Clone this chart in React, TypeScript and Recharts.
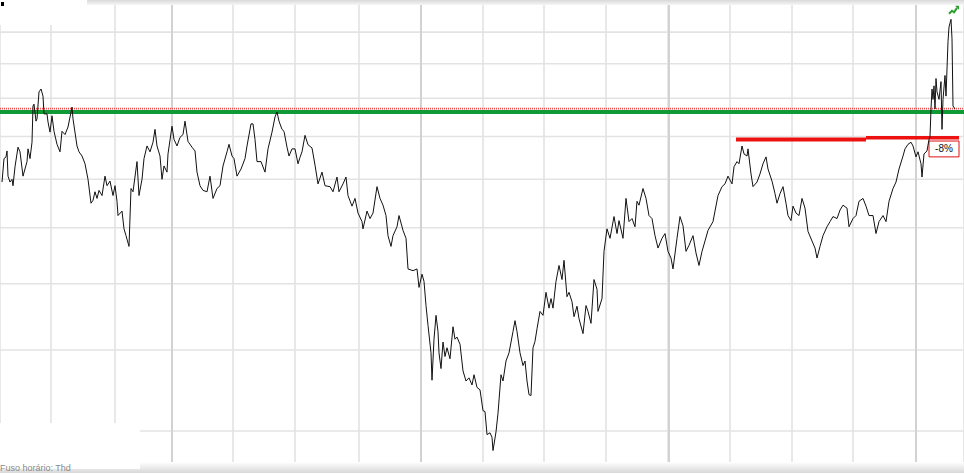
import React from 'react';
import {
  LineChart, Line, XAxis, YAxis, CartesianGrid, ReferenceLine, ReferenceArea, ReferenceDot,
} from 'recharts';

// trading day index
const days = [
  2, 4, 6, 7, 8, 10, 12, 13, 15, 18, 20, 23, 27, 28, 30, 32, 33, 34, 36, 37, 39, 41, 43, 44, 47, 48, 50, 52, 54, 57,
  60, 62, 65, 68, 72, 73, 77, 79, 82, 85, 88, 91, 93, 95, 97, 99, 102, 105, 107, 110, 113, 115, 117, 118, 122, 124, 126, 129,
  131, 133, 137, 139, 142, 144, 147, 150, 153, 155, 157, 160, 162, 164, 167, 168, 172, 174, 177, 180, 183, 185, 188, 192,
  195, 197, 200, 203, 207, 210, 213, 217, 220, 223, 227, 229, 232, 234, 237, 241, 245, 247, 251, 253, 255, 257, 261, 265,
  268, 272, 275, 277, 279, 282, 284, 287, 289, 292, 295, 298, 300, 302, 305, 308, 312, 315, 318, 322, 325, 330, 333, 337,
  339, 343, 346, 348, 352, 355, 358, 362, 363, 367, 370, 373, 377, 380, 383, 386, 388, 391, 393, 397, 399, 403, 406, 408,
  413, 417, 419, 422, 424, 426, 428, 431, 432, 434, 436, 438, 439, 441, 443, 445, 447, 450, 453, 455, 457, 460, 463, 466,
  469, 472, 474, 477, 480, 483, 485, 487, 490, 492, 493, 496, 498, 501, 503, 506, 509, 513, 515, 517, 520, 523, 525, 527,
  529, 531, 533, 535, 537, 540, 543, 546, 549, 551, 553, 556, 559, 562, 564, 567, 569, 572, 574, 577, 579, 583, 586, 588,
  591, 594, 597, 598, 602, 604, 607, 610, 614, 617, 619, 623, 626, 629, 632, 635, 637, 639, 643, 646, 649, 652, 655, 658,
  662, 665, 668, 671, 673, 677, 680, 683, 686, 689, 693, 696, 699, 702, 705, 708, 713, 715, 718, 722, 725, 728, 732, 734,
  737, 739, 742, 744, 747, 748, 751, 753, 757, 760, 763, 766, 768, 772, 775, 777, 780, 783, 786, 788, 791, 793, 796, 799,
  802, 805, 808, 812, 815, 817, 820, 823, 827, 830, 833, 837, 840, 843, 847, 849, 853, 856, 859, 863, 866, 869, 873, 876,
  879, 883, 886, 889, 893, 896, 899, 903, 905, 908, 911, 913, 916, 918, 921, 922, 924, 927, 929, 930, 931, 932, 933, 934,
  935, 936, 937, 939, 941, 942, 943, 945, 946, 948, 949, 951, 952, 953, 955,
];

const prices = [
  7.94, 8.47, 8.51, 8.65, 8.07, 7.94, 8.0, 7.86, 8.28, 8.74, 8.63, 8.07, 8.4, 8.7, 8.47, 8.86, 9.79, 9.84, 9.39, 9.45, 10.18, 10.26, 10.06, 9.58, 9.58, 9.37, 9.11, 9.53, 9.13, 8.81,
  8.63, 9.13, 9.05, 9.24, 9.76, 9.45, 8.77, 8.63, 8.53, 8.35, 8.0, 7.49, 7.55, 7.73, 7.59, 7.76, 7.65, 8.07, 7.86, 7.96, 7.65, 7.86, 7.53, 7.24, 7.33, 6.98, 6.85, 6.65,
  7.8, 7.73, 8.4, 7.65, 8.0, 8.47, 8.77, 8.63, 8.86, 9.18, 8.77, 8.53, 8.0, 8.3, 8.16, 8.58, 9.26, 8.93, 8.77, 8.98, 9.05, 9.39, 8.88, 8.74,
  8.65, 8.16, 7.86, 7.76, 7.73, 8.07, 7.59, 7.8, 7.86, 8.3, 8.63, 8.81, 8.53, 8.47, 8.07, 8.23, 8.47, 8.77, 9.32, 9.32, 8.93, 8.4, 8.4, 8.16,
  8.7, 9.11, 9.5, 9.63, 9.39, 9.18, 9.13, 8.74, 8.53, 8.7, 8.7, 8.35, 8.5, 8.63, 9.03, 8.8, 8.72, 8.32, 7.9, 8.16, 7.86, 7.84, 7.73, 8.05,
  7.73, 7.9, 8.05, 7.65, 7.43, 7.59, 7.29, 7.12, 6.98, 7.33, 7.18, 7.29, 7.84, 7.59, 7.45, 7.24, 6.85, 6.65, 6.85, 7.02, 7.24, 6.95, 6.8, 6.25,
  6.22, 6.25, 5.94, 6.16, 6.04, 5.65, 5.35, 4.96, 4.6, 5.15, 5.5, 5.26, 4.96, 4.75, 5.11, 4.91, 5.03, 4.88, 5.33, 5.15, 5.18, 5.08, 4.72, 4.59,
  4.63, 4.54, 4.67, 4.51, 4.48, 4.23, 4.22, 3.96, 3.98, 3.93, 3.79, 3.99, 4.2, 4.67, 4.59, 4.85, 4.96, 5.26, 5.42, 5.26, 4.96, 4.79, 4.85, 4.59,
  4.42, 4.41, 5.03, 5.12, 5.3, 5.56, 5.5, 5.86, 5.61, 5.76, 5.61, 6.04, 6.31, 6.07, 6.4, 5.79, 5.86, 5.71, 5.48, 5.64, 5.45, 5.23, 5.65, 5.56,
  5.38, 6.07, 5.91, 5.56, 5.76, 6.56, 6.98, 6.8, 7.22, 6.89, 7.14, 6.8, 7.59, 7.12, 7.18, 7.02, 7.53, 7.45, 7.8, 7.59, 7.24, 7.18, 6.85, 6.62,
  6.8, 6.89, 6.56, 6.44, 6.25, 6.8, 7.22, 7.04, 6.56, 6.67, 6.85, 6.53, 6.31, 6.56, 6.75, 6.95, 7.12, 7.33, 7.65, 7.84, 7.9, 8.07, 7.9, 8.28,
  8.4, 8.35, 8.77, 8.58, 8.53, 8.7, 8.12, 7.84, 7.94, 8.12, 8.35, 8.51, 8.23, 7.96, 7.69, 7.49, 7.69, 7.84, 7.49, 7.24, 7.14, 7.43, 7.29, 7.24,
  7.59, 7.39, 6.93, 6.75, 6.62, 6.44, 6.65, 6.85, 7.02, 7.12, 7.22, 7.18, 7.35, 7.45, 7.39, 7.02, 7.18, 7.24, 7.53, 7.59, 7.43, 7.24, 7.24, 6.89,
  7.12, 7.24, 7.12, 7.53, 7.8, 7.94, 8.23, 8.53, 8.7, 8.81, 8.86, 8.77, 8.51, 8.63, 8.35, 8.05, 8.58, 8.65, 8.93, 9.0, 9.71, 10.26, 9.97, 10.35,
  9.71, 10.56, 10.18, 9.97, 10.47, 9.18, 9.97, 10.65, 10.06, 11.69, 12.17, 12.43, 11.78, 9.79, 9.71,
];

const priceTicks = [4, 5, 6, 7, 8, 9, 10, 11, 12];
const quarterTicks = [51, 115, 172, 233, 295, 359, 421, 483, 544, 606, 668, 730, 792, 853, 916];
const yearTicks = [172, 421, 669, 916];

const resistanceLevel = 9.63;
const resistanceDotted = 9.72;
const stopLevelA = 8.93;
const stopLevelB = 8.97;
const stopStartA = 736;
const stopStartB = 866;
const stopEnd = 959;
const stopLabel = '-8%';
const labelBox = { x1: 929, x2: 959, top: 8.89, bottom: 8.51 };
const arrowPoint = { day: 954, price: 12.76 };
const footerText = 'Fuso horário: Thd';

const data = days.map((d, i) => ({ day: d, price: prices[i] }));

const Arrow = (props: any) => {
  const { cx, cy } = props;
  if (cx == null || cy == null) return null;
  return (
    <g transform={`translate(${cx},${cy})`}>
      <path d="M-5,4 L-2,1 L0,2.5 L3,-2" stroke="#2e9e2e" strokeWidth={2} fill="none" />
      <path d="M1,-4 L5,-4 L5,0 Z" fill="#2e9e2e" />
    </g>
  );
};

const BoxLabel = (props: any) => {
  const { viewBox } = props;
  if (!viewBox) return null;
  const { x, y, width, height } = viewBox;
  return (
    <text x={x + width / 2} y={y + height / 2 + 3.5} textAnchor="middle" fontSize={10}
      fontFamily="Arial, Liberation Sans, sans-serif" fill="#111">{stopLabel}</text>
  );
};

export default function App() {
  return (
    <div style={{ position: 'absolute', left: 0, top: 0, width: 964, height: 475, background: '#fff', overflow: 'hidden' }}>
      <LineChart width={964} height={475} data={data} margin={{ top: 0, right: 0, bottom: 0, left: 0 }}>
        <CartesianGrid stroke="#e3e3e3" strokeWidth={1.6} />
        <XAxis dataKey="day" type="number" domain={[0, 964]} ticks={quarterTicks} hide allowDataOverflow />
        <YAxis type="number" scale="log" domain={[3.543, 13.11]} ticks={priceTicks} hide allowDataOverflow />
        {yearTicks.map((t) => (
          <ReferenceLine key={t} x={t} stroke="#d2d2d2" strokeWidth={2} />
        ))}
        <ReferenceLine y={resistanceDotted} stroke="#f05050" strokeWidth={1.6} strokeDasharray="1 1" />
        <ReferenceLine y={resistanceLevel} stroke="#0f9a35" strokeWidth={4} />
        <ReferenceLine segment={[{ x: stopStartA, y: stopLevelA }, { x: stopStartB, y: stopLevelA }]} stroke="#ee1111" strokeWidth={4} />
        <ReferenceLine segment={[{ x: stopStartB, y: stopLevelB }, { x: stopEnd, y: stopLevelB }]} stroke="#ee1111" strokeWidth={3.5} />
        <ReferenceArea x1={labelBox.x1} x2={labelBox.x2} y1={labelBox.bottom} y2={labelBox.top}
          fill="#ffffff" fillOpacity={1} stroke="#e01010" strokeWidth={1} label={<BoxLabel />} />
        <Line type="linear" dataKey="price" stroke="#111" strokeWidth={1} dot={false} isAnimationActive={false} />
        <ReferenceDot x={arrowPoint.day} y={arrowPoint.price} shape={<Arrow />} />
      </LineChart>
      <div style={{ position: 'absolute', left: 87, top: 0, width: 877, height: 5, background: 'linear-gradient(#d9d9d9, #f6f6f6)' }} />
      <div style={{ position: 'absolute', left: 0, top: 0, width: 87, height: 25, background: '#fff' }} />
      <div style={{ position: 'absolute', left: 1, top: 2, width: 3, height: 4, background: '#000' }} />
      <div style={{ position: 'absolute', left: 0, top: 462, width: 964, height: 11, background: 'linear-gradient(#ffffff, #d8d8d8)' }} />
      <div style={{ position: 'absolute', left: 0, top: 473, width: 964, height: 2, background: '#fff' }} />
      <div style={{ position: 'absolute', left: 0, top: 423, width: 140, height: 46, background: '#fff' }} />
      <div style={{ position: 'absolute', left: 0, top: 463, fontSize: 9, lineHeight: '10px', color: '#8a8a8a', fontFamily: 'Arial, Liberation Sans, sans-serif', whiteSpace: 'nowrap' }}>{footerText}</div>
    </div>
  );
}
